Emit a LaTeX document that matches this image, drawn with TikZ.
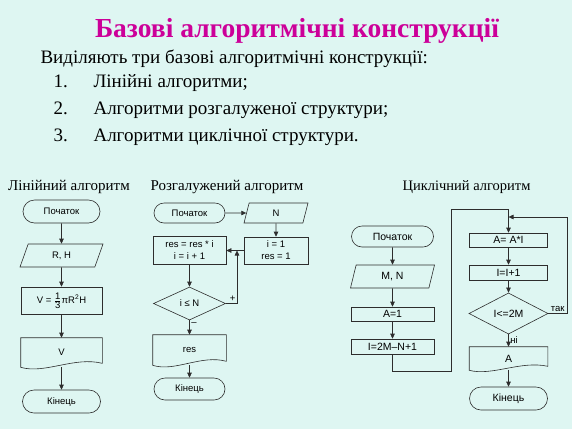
\documentclass[tikz,border=0pt]{standalone}
\usepackage{fontspec}
\setmainfont{Liberation Serif}
\newfontfamily\chartfont{Liberation Sans}
\usetikzlibrary{shapes.geometric,shapes.misc,arrows.meta,positioning}
\definecolor{slideBg}{RGB}{222,246,242}
\definecolor{titleMag}{RGB}{204,0,153}
\definecolor{lineGray}{RGB}{45,45,45}

\tikzset{
  blk/.style={draw=lineGray, line width=0.6pt, inner sep=1pt, align=center,
    font=\chartfont\fontsize{9.5}{12}\selectfont},
  term/.style={blk, rounded rectangle},
  proc/.style={blk, rectangle},
  io/.style={blk, trapezium, trapezium stretches body},
  cond/.style={blk, diamond},
  docbox/.style={blk, draw=none, rectangle},
  flow/.style={draw=lineGray, line width=0.6pt, -{Triangle[length=5pt,width=4.5pt]}},
  lbl/.style={font=\chartfont\fontsize{9.5}{10}\selectfont, inner sep=1.5pt},
  bigtext/.style={font=\chartfont\fontsize{10.5}{12}\selectfont},
  coltitle/.style={anchor=base, font=\fontsize{15}{17}\selectfont},
  slidetext/.style={anchor=base west, font=\fontsize{19}{22}\selectfont},
}

\begin{document}
\begin{tikzpicture}[x=1pt, y=-1pt]
  \fill[slideBg] (0,0) rectangle (572,429);
  \useasboundingbox (0,0) rectangle (572,429);
  % --- heading and list --------------------------------------------------
  \node[anchor=base, text=titleMag, font=\bfseries\fontsize{27.5}{32}\selectfont] (title) at (297,37) {Базові алгоритмічні конструкції};
  \node[slidetext] (intro) at (37,63) {Виділяють три базові алгоритмічні конструкції:};
  \foreach \n/\txt in {1/{Лінійні алгоритми;}, 2/{Алгоритми розгалуженої структури;}, 3/{Алгоритми циклічної структури.}} {
     \node[slidetext] (num\n) at (50,60+27*\n) {\n.};
     \node[slidetext] (item\n) at (90,60+27*\n) {\txt};
  }
  % --- column titles -----------------------------------------------------
  \node[coltitle] (linTitle) at (69,190) {Лінійний алгоритм};
  \node[coltitle] (brTitle) at (227,190) {Розгалужений алгоритм};
  \node[coltitle, font=\fontsize{14.5}{17}\selectfont] (cycTitle) at (466.5,190) {Циклічний алгоритм};

  % --- linear algorithm --------------------------------------------------
  \node[term, minimum width=79pt, minimum height=23pt] (L1) at (61.5,211.5) {Початок};
  \node[io, trapezium left angle=50, trapezium right angle=130, minimum width=83pt, minimum height=23pt] (L2) at (61.5,255.5) {R, H};
  \node[proc, minimum width=81pt, minimum height=27pt] (L3) at (61.5,300.5) {V = $\frac{\mbox{1}}{\mbox{3}}$πR\textsuperscript{2}H};
  \node[docbox, minimum width=81pt, minimum height=29pt] (L4) at (61.5,352.5) {V};
  \node[term, minimum width=80pt, minimum height=23pt] (L5) at (61.5,401.5) {Кінець};
  \draw[draw=lineGray, line width=0.6pt] (L4.north west) -- (L4.north east) -- ([yshift=4pt]L4.south east)
     .. controls ([xshift=-28pt,yshift=11pt]L4.south east) and ([xshift=24pt,yshift=-7pt]L4.south west) .. (L4.south west) -- cycle;
  \draw[flow] (L1) -- (L2);
  \draw[flow] (L2) -- (L3);
  \draw[flow] (L3) -- (L4);
  \draw[flow] (L4) -- (L5);

  % --- branching algorithm -----------------------------------------------
  \node[term, minimum width=73pt, minimum height=20pt] (B1) at (189.5,213) {Початок};
  \node[io, trapezium left angle=59, trapezium right angle=121, minimum width=64pt, minimum height=20pt] (B2) at (276,213) {N};
  \node[proc, minimum width=64pt, minimum height=27pt] (B3) at (276,250.5) {i = 1\\res = 1};
  \node[proc, minimum width=73pt, minimum height=28pt] (B4) at (189.5,250.5) {res = res * i\\i = i + 1};
  \node[cond, minimum width=72pt, minimum height=33pt] (B5) at (189.5,303.5) {i ≤ N};
  \node[docbox, minimum width=73pt, minimum height=30pt] (B6) at (189.5,350) {res};
  \node[term, minimum width=73pt, minimum height=22pt] (B7) at (189.5,389) {Кінець};
  \draw[draw=lineGray, line width=0.6pt] (B6.north west) -- (B6.north east) -- ([yshift=4pt]B6.south east)
     .. controls ([xshift=-25pt,yshift=11pt]B6.south east) and ([xshift=22pt,yshift=-7pt]B6.south west) .. (B6.south west) -- cycle;
  \coordinate (Bjoin) at (237,250.5);
  \draw[flow] (B1) -- (B2);
  \draw[flow] (B2) -- (B3);
  \draw[flow] (B3) -- (B4);
  \draw[flow] (B4) -- (B5);
  \draw[flow] (B5.east) -| node[lbl, above, pos=0.3] {+} (Bjoin);
  \draw[flow] (B5) -- node[lbl, right, pos=0.25] {–} (B6);
  \draw[flow] (B6) -- (B7);

  % --- cyclic algorithm --------------------------------------------------
  \node[term, bigtext, minimum width=84pt, minimum height=21pt] (C1) at (392.5,236.5) {Початок};
  \node[io, bigtext, trapezium left angle=62, trapezium right angle=118, minimum width=84pt, minimum height=23pt] (C2) at (392.5,276.5) {M, N};
  \node[proc, bigtext, minimum width=83pt, minimum height=14pt] (C3) at (392.5,314) {A=1};
  \node[proc, bigtext, minimum width=83pt, minimum height=15pt] (C4) at (392.5,346.5) {I=2M–N+1};
  \node[proc, bigtext, minimum width=78pt, minimum height=14pt] (C5) at (508.5,240) {A= A*I};
  \node[proc, bigtext, minimum width=78pt, minimum height=15pt] (C6) at (508.5,272.5) {I=I+1};
  \node[cond, bigtext, minimum width=79pt, minimum height=33pt] (C7) at (508.5,313.5) {I<=2M};
  \node[docbox, bigtext, minimum width=78pt, minimum height=23pt] (C8) at (508.5,358.5) {A};
  \node[term, bigtext, minimum width=80pt, minimum height=23pt] (C9) at (508.5,398.5) {Кінець};
  \draw[draw=lineGray, line width=0.6pt] (C8.north west) -- (C8.north east) -- ([yshift=4pt]C8.south east)
     .. controls ([xshift=-27pt,yshift=10pt]C8.south east) and ([xshift=23pt,yshift=-6pt]C8.south west) .. (C8.south west) -- cycle;
  \coordinate (Cbot) at (392.5,371);
  \coordinate (Ctop) at (451,209);
  \coordinate (Cright) at (567,217);
  \coordinate (Cjoin) at (508.5,217);
  \draw[flow] (C1) -- (C2);
  \draw[flow] (C2) -- (C3);
  \draw[flow] (C3) -- (C4);
  \draw[flow] (C4.south) -- (Cbot) -| (Ctop) -| (C5.north);
  \draw[flow] (C5) -- (C6);
  \draw[flow] (C6) -- (C7);
  \draw[flow] (C7.east) -| node[lbl, above, pos=0.25] {так} (Cright) -- (Cjoin);
  \draw[flow] (C7) -- node[lbl, right, pos=0.45] {ні} (C8);
  \draw[flow] (C8) -- (C9);
\end{tikzpicture}
\end{document}
